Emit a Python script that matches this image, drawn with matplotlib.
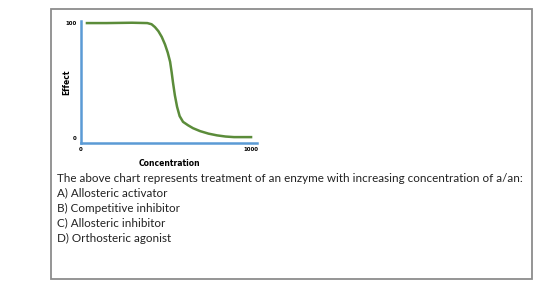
import matplotlib.pyplot as plt
from matplotlib.patches import Rectangle

# curve
conc = [35, 150, 300, 390, 415, 435, 455, 475, 494, 510, 524, 533, 541, 552, 565,
        580, 600, 630, 659, 700, 750, 800, 850, 900, 1000]
effect = [99.5, 99.5, 99.8, 99.5, 98.5, 96, 92.5, 87.5, 81, 74, 66, 57, 48, 37, 27,
          19, 14, 11, 8.5, 6, 3.8, 2.3, 1.3, 0.8, 0.8]

question = "The above chart represents treatment of an enzyme with increasing concentration of a/an:"
options = ["A) Allosteric activator", "B) Competitive inhibitor",
           "C) Allosteric inhibitor", "D) Orthosteric agonist"]

fig = plt.figure(figsize=(5.6, 2.95), dpi=100)

# outer frame round the question
fig.patches.append(Rectangle((51/560, 1-279/295), (532-51)/560, (279-9)/295,
                             transform=fig.transFigure, fill=False,
                             edgecolor='#8c8c8c', linewidth=1.3))

ax = fig.add_axes([81/560, 1-143/295, (257-81)/560, (143-21)/295])
ax.plot(conc, effect, color='#5b8c3a', linewidth=1.8)
ax.set_xlim(0, 1035)
ax.set_ylim(-4.3, 101.3)
for s in ['top', 'right']:
    ax.spines[s].set_visible(False)
for s in ['left', 'bottom']:
    ax.spines[s].set_color('#5b9bd5')
    ax.spines[s].set_linewidth(1.8)
ax.set_xticks([0, 1000])
ax.set_xticklabels(['0', '1000'])
ax.set_yticks([0, 100])
ax.set_yticklabels(['0', '100'])
ax.tick_params(length=0, labelsize=4, pad=3)
for lab in ax.get_xticklabels() + ax.get_yticklabels():
    lab.set_fontweight('bold')
ax.set_xlabel('Concentration', fontsize=5.5, fontweight='bold', labelpad=5)
ax.set_ylabel('Effect', fontsize=5.5, fontweight='bold', labelpad=-4)

fig.text(57/560, 1-178/295, question, fontsize=8.37, family='Lato', va='center', color='#222222')
for i, t in enumerate(options):
    fig.text(57/560, 1-(193+15*i)/295, t, fontsize=8.37, family='Lato', va='center', color='#222222')

fig.savefig('out.png', dpi=100)
